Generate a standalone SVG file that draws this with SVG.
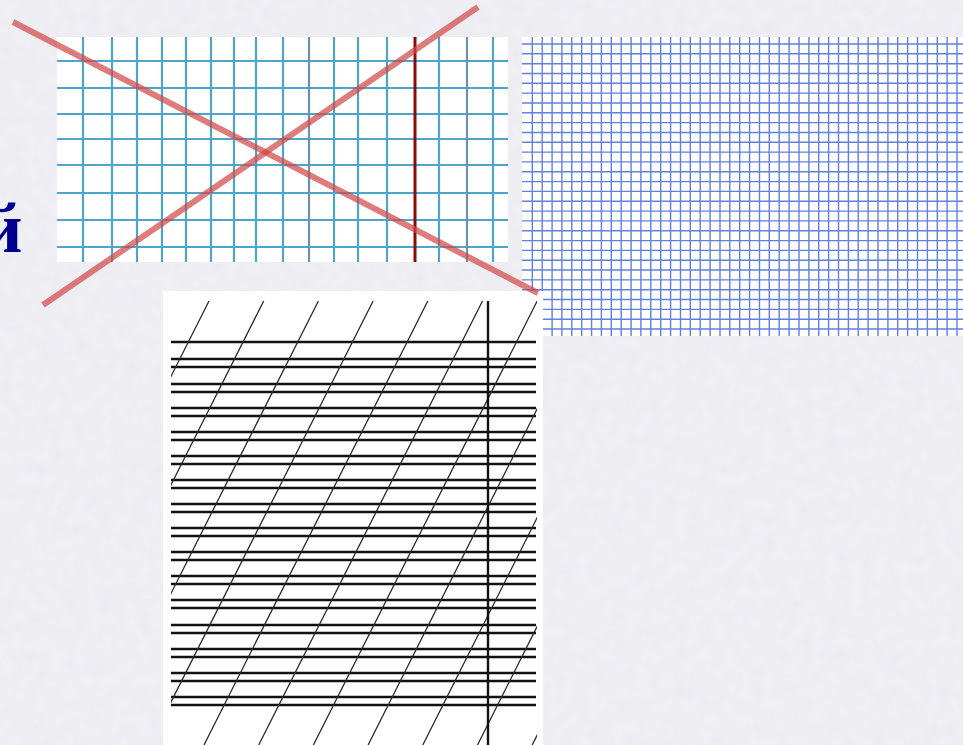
<svg xmlns="http://www.w3.org/2000/svg" width="963" height="745" viewBox="0 0 963 745">
  <defs>
    <style>
      .paper { fill: #ffffff; }
      .teal { stroke: #4fa5c9; stroke-width: 2.2; fill: none; }
      .tealdark { stroke: #6a93ad; stroke-width: 2.2; fill: none; }
      .margin { stroke: #8b0a0a; stroke-width: 3; fill: none; }
      .blue { stroke: #6280dd; stroke-width: 1.4; fill: none; }
      .rule { stroke: #111111; stroke-width: 2.4; fill: none; }
      .slant { stroke: #2a2a2a; stroke-width: 1.3; fill: none; }
      .cross { stroke: #d04545; stroke-opacity: 0.7; stroke-width: 6; fill: none; }
      .letter { font-family: "Liberation Serif", "Times New Roman", serif; font-weight: bold; fill: #00008f; }
    </style>
    <clipPath id="slantClip">
      <rect x="171" y="300" width="366" height="445"/>
    </clipPath>
    <filter id="grain" x="0" y="0" width="100%" height="100%">
      <feTurbulence type="fractalNoise" baseFrequency="0.08" numOctaves="3" seed="4" result="n"/>
      <feColorMatrix in="n" type="matrix" values="0 0 0 0 0.6  0 0 0 0 0.6  0 0 0 0 0.65  0 0 0 0.1 0"/>
    </filter>
  </defs>

  <g id="background">
    <rect x="0" y="0" width="963" height="745" fill="#f0eff4"/>
    <rect x="0" y="0" width="963" height="745" filter="url(#grain)"/>
  </g>

  <g id="letter">
    <text class="letter" x="-19" y="252" font-size="72">й</text>
  </g>

  <g id="teal-grid">
    <rect class="paper" x="57" y="37" width="451" height="225"/>
    <path class="teal" d="M57 61H508M57 88H508M57 114H508M57 139H508M57 165H508M57 193H508M57 220H508M57 247H508"/>
    <path class="teal" d="M83 37V262M112 37V262M137 37V262M162 37V262M186 37V262M211 37V262M234 37V262M256 37V262M283 37V262M334 37V262M358 37V262M387 37V262M439 37V262M493 37V262"/>
    <path class="tealdark" d="M309 37V262M467 37V262"/>
    <path class="margin" d="M415 37V262"/>
  </g>

  <g id="blue-grid">
    <rect class="paper" x="522" y="37" width="441" height="299"/>
    <path class="blue" d="M532.3 37V336M542.2 37V336M552.1 37V336M561.9 37V336M571.8 37V336M581.7 37V336M591.6 37V336M601.4 37V336M611.3 37V336M621.2 37V336M631.1 37V336M640.9 37V336M650.8 37V336M660.7 37V336M670.6 37V336M680.5 37V336M690.3 37V336M700.2 37V336M710.1 37V336M720 37V336M729.8 37V336M739.7 37V336M749.6 37V336M759.5 37V336M769.3 37V336M779.2 37V336M789.1 37V336M799 37V336M808.9 37V336M818.7 37V336M828.6 37V336M838.5 37V336M848.4 37V336M858.2 37V336M868.1 37V336M878 37V336M887.9 37V336M897.7 37V336M907.6 37V336M917.5 37V336M927.4 37V336M937.3 37V336M947.1 37V336M957 37V336"/>
    <path class="blue" d="M522 44H963M522 53.8H963M522 63.7H963M522 73.5H963M522 83.3H963M522 93.1H963M522 103H963M522 112.8H963M522 122.6H963M522 132.5H963M522 142.3H963M522 152.1H963M522 161.9H963M522 171.8H963M522 181.6H963M522 191.4H963M522 201.2H963M522 211.1H963M522 220.9H963M522 230.7H963M522 240.6H963M522 250.4H963M522 260.2H963M522 270H963M522 279.9H963M522 289.7H963M522 299.5H963M522 309.4H963M522 319.2H963M522 329H963"/>
  </g>

  <g id="lined-paper">
    <rect class="paper" x="163" y="291" width="380" height="454"/>
    <path class="rule" d="M171 342H536M171 359H536M171 367H536M171 384H536M171 392H536M171 408H536M171 416H536M171 432H536M171 440H536M171 456H536M171 464H536M171 480H536M171 488H536M171 504H536M171 512H536M171 528H536M171 536H536M171 552H536M171 560H536M171 576H536M171 584H536M171 600H536M171 608H536M171 625H536M171 633H536M171 649H536M171 657H536M171 673H536M171 681H536M171 697H536M171 705H536"/>
    <g clip-path="url(#slantClip)">
      <path class="slant" d="M209 301L-14.8 745M263.7 301L39.9 745M318.4 301L94.6 745M373.1 301L149.3 745M427.8 301L204 745M482.5 301L258.7 745M537.2 301L313.4 745M591.9 300L368.1 745M646.6 300L422.8 745M701.3 300L477.5 745M756 300L532.2 745"/>
    </g>
    <path class="rule" stroke-width="2" d="M488 301V745"/>
  </g>

  <g id="crossed-out">
    <path class="cross" d="M13 22L538 293"/>
    <path class="cross" d="M43 305L478 7"/>
  </g>
</svg>
